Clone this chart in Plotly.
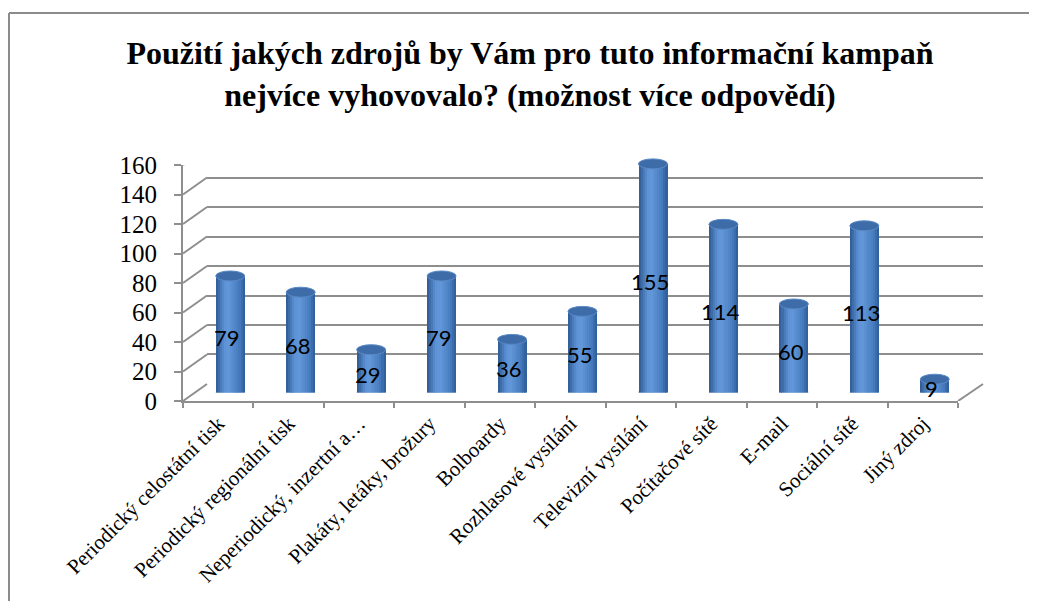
import plotly.graph_objects as go

categories = [
    "Periodický celostátní tisk",
    "Periodický regionální tisk",
    "Neperiodický, inzertní a…",
    "Plakáty, letáky, brožury",
    "Bolboardy",
    "Rozhlasové vysílání",
    "Televizní vysílání",
    "Počítačové sítě",
    "E-mail",
    "Sociální sítě",
    "Jiný zdroj",
]
responses = [79, 68, 29, 79, 36, 55, 155, 114, 60, 113, 9]
y_ticks = [0, 20, 40, 60, 80, 100, 120, 140, 160]

TITLE = ("Použití jakých zdrojů by Vám pro tuto informační kampaň<br>"
         "nejvíce vyhovovalo? (možnost více odpovědí)")

# the page body has an 8px margin, so the figure starts at (8, 8) on screen
OFF = 8
SCREEN_W, SCREEN_H = 1037, 601
W, H = SCREEN_W - OFF, SCREEN_H - OFF
GRID = "#8e8e8e"
SERIF = "Liberation Serif"


def px_x(x):
    return (x - OFF) / W


def px_y(y):
    return (SCREEN_H - y) / H


def dom_x(left, right):
    return [px_x(left), px_x(right)]


def dom_y(top, bottom):
    return [px_y(bottom), px_y(top)]


def hex_mix(c1, c2, t):
    a = [int(c1[i:i + 2], 16) for i in (1, 3, 5)]
    b = [int(c2[i:i + 2], 16) for i in (1, 3, 5)]
    return "#" + "".join(f"{round(x + (y - x) * t):02x}" for x, y in zip(a, b))


# cylinder shading, left edge -> right edge
stops = [(0.0, "#2d5990"), (0.3, "#5c92d5"), (0.45, "#6298d9"), (0.8, "#477cbf"), (1.0, "#2e5c97")]


def shade(t):
    for (t0, c0), (t1, c1) in zip(stops, stops[1:]):
        if t0 <= t <= t1:
            return hex_mix(c0, c1, (t - t0) / (t1 - t0))
    return stops[-1][1]


idx = list(range(len(categories)))
bar_w = 0.41
n_slices = 14

fig = go.Figure()

# front axes (labels, ticks)
fig.add_trace(go.Scatter(
    x=categories, y=responses, mode="markers",
    marker=dict(opacity=0), hoverinfo="skip", showlegend=False,
))
# back wall (grid lines)
fig.add_trace(go.Scatter(
    x=[0], y=[0], xaxis="x2", yaxis="y2", mode="markers",
    marker=dict(opacity=0), hoverinfo="skip", showlegend=False,
))
# cylinders at mid depth
for k in range(n_slices):
    t = (k + 0.5) / n_slices
    fig.add_trace(go.Bar(
        x=idx, y=responses, xaxis="x3", yaxis="y3",
        width=bar_w / n_slices * 1.08,
        offset=-bar_w / 2 + k * bar_w / n_slices,
        marker=dict(color=shade(t), line=dict(width=0)),
        hoverinfo="skip", showlegend=False,
    ))

shapes = []
half_w = 14.5
for i, v in zip(idx, responses):
    # bottom rounding
    shapes.append(dict(
        type="circle", layer="between", xref="x3", yref="y3",
        xsizemode="pixel", ysizemode="pixel", xanchor=i, yanchor=0,
        x0=-half_w, x1=half_w, y0=-5, y1=5,
        fillcolor="#4679ba", line=dict(width=0),
    ))
    # top cap
    shapes.append(dict(
        type="circle", layer="above", xref="x3", yref="y3",
        xsizemode="pixel", ysizemode="pixel", xanchor=i, yanchor=v,
        x0=-half_w, x1=half_w, y0=-5, y1=5,
        fillcolor="#3d6ca8", line=dict(color="#5a89c6", width=1),
    ))

# side wall diagonals
for v in y_ticks:
    shapes.append(dict(
        type="line", layer="below", xref="x domain", yref="y",
        xsizemode="pixel", ysizemode="pixel", xanchor=0, yanchor=v,
        x0=0, x1=24, y0=0, y1=17, line=dict(color=GRID, width=2),
    ))
# floor right edge
shapes.append(dict(
    type="line", layer="below", xref="x domain", yref="y",
    xsizemode="pixel", ysizemode="pixel", xanchor=1, yanchor=0,
    x0=0, x1=25, y0=0, y1=17, line=dict(color=GRID, width=2),
))

# chart border
shapes.append(dict(type="line", xref="paper", yref="paper",
                   x0=px_x(9), x1=px_x(9), y0=0, y1=px_y(13),
                   line=dict(color="#8c8c8c", width=2)))
shapes.append(dict(type="line", xref="paper", yref="paper",
                   x0=px_x(9), x1=1, y0=px_y(13), y1=px_y(13),
                   line=dict(color="#8c8c8c", width=2)))

annotations = [
    dict(x=i, y=v / 2, xref="x3", yref="y3", text=str(v), showarrow=False,
         xshift=-3, yshift=-3, font=dict(family="Lato", size=22, color="black"))
    for i, v in zip(idx, responses)
]

fig.update_layout(
    template="none",
    width=W, height=H,
    margin=dict(l=0, r=0, t=0, b=0, autoexpand=False),
    paper_bgcolor="white",
    plot_bgcolor="rgba(0,0,0,0)",
    barmode="overlay",
    bargap=0,
    title=dict(
        text=f"<b>{TITLE}</b>",
        x=px_x(530), xanchor="center", y=px_y(64), yanchor="middle",
        font=dict(family=SERIF, size=32, color="black"),
    ),
    xaxis=dict(
        domain=dom_x(183, 958), anchor="y", type="category", automargin=False,
        range=[-0.5, len(categories) - 0.5],
        showline=True, linecolor=GRID, linewidth=2,
        ticks="outside", tickson="boundaries", ticklen=5,
        tickcolor=GRID, tickwidth=2,
        tickangle=-45, showgrid=False, zeroline=False,
        tickfont=dict(family=SERIF, size=21, color="black"),
    ),
    yaxis=dict(
        domain=dom_y(165, 401), anchor="x", automargin=False,
        range=[0, 160], tickvals=y_ticks,
        showline=True, linecolor=GRID, linewidth=2,
        ticks="outside", ticklen=7, tickcolor=GRID, tickwidth=2,
        ticklabelstandoff=12,
        showgrid=False, zeroline=False,
        tickfont=dict(family=SERIF, size=25, color="black"),
    ),
    xaxis2=dict(domain=dom_x(207, 983), anchor="y2", range=[0, 1], visible=False),
    yaxis2=dict(
        domain=dom_y(148, 384), anchor="x2", automargin=False,
        range=[-0.01, 160.01], tickvals=y_ticks,
        showgrid=True, gridcolor=GRID, gridwidth=2,
        zeroline=False, showticklabels=False, ticks="", showline=False,
    ),
    xaxis3=dict(domain=dom_x(195, 970), anchor="y3", range=[-0.5, len(categories) - 0.5], visible=False),
    yaxis3=dict(domain=dom_y(156.5, 392.5), anchor="x3", range=[0, 160], visible=False),
    shapes=shapes,
    annotations=annotations,
)

fig.write_html("out.html")
